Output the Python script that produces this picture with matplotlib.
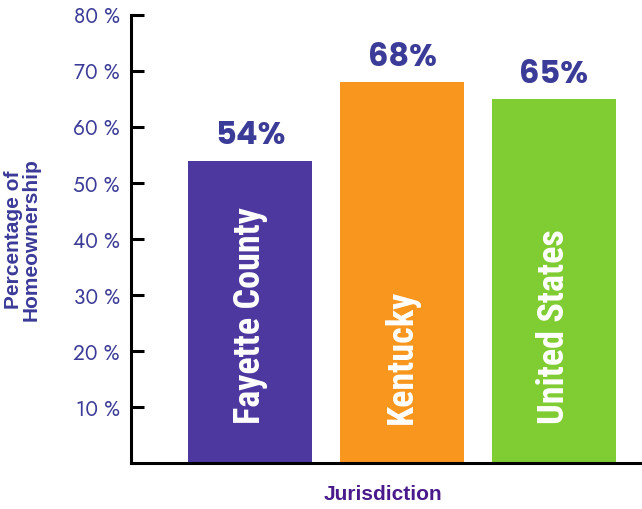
import numpy as np
import matplotlib.pyplot as plt

jurisdictions = ['Fayette County', 'Kentucky', 'United States']
ownership = [54, 68, 65]
bar_colors = ['#4d38a0', '#f8961d', '#80cc33']
yticks = [10, 20, 30, 40, 50, 60, 70, 80]

label_blue = '#3b3b98'
futura = ['Jost', 'Lato', 'DejaVu Sans']
futura_bold = ['Poppins', 'Lato', 'DejaVu Sans']
narrow = ['Roboto Condensed', 'Barlow Condensed', 'Liberation Sans']
arial = ['Liberation Sans', 'DejaVu Sans']

fig = plt.figure(figsize=(6.42, 5.09), dpi=100)
ax = fig.add_axes([131 / 642, 1 - 463 / 509, 1 - 131 / 642, (463 - 15) / 509])

x = np.arange(len(jurisdictions))
bars = ax.bar(x, ownership, width=0.816, color=bar_colors)

for xi, val, name in zip(x, ownership, jurisdictions):
    ax.text(xi, val + 1.5, f'{val}%', ha='center', va='bottom',
            fontsize=23, fontweight='bold', color=label_blue, family=futura_bold)
    ax.text(xi, 7, name, rotation=90, ha='center', va='bottom',
            fontsize=26, fontweight='bold', color='white', family=narrow)

ax.set_xlim(-0.783, 2.579)
ax.set_ylim(0, 80)
ax.set_xticks([])
ax.set_yticks(yticks)
ax.set_yticklabels([f'{t} %' for t in yticks], family=futura)

ax.spines['top'].set_visible(False)
ax.spines['right'].set_visible(False)
ax.spines['left'].set_linewidth(2.2)
ax.spines['bottom'].set_linewidth(2.2)
ax.tick_params(axis='y', direction='in', length=9, width=2.2,
               labelsize=15, labelcolor=label_blue, pad=8)

fig.text(22 / 642, 1 - 240 / 509, 'Percentage of\nHomeownership', rotation=90,
         ha='center', va='center', fontsize=15, fontweight='bold',
         color=label_blue, linespacing=0.9, family=arial)
fig.text(383 / 642, 1 - 494 / 509, 'Jurisdiction', ha='center', va='center',
         fontsize=15, fontweight='bold', color='#4a1a8c', family=arial)

fig.savefig('out.png', dpi=100)
